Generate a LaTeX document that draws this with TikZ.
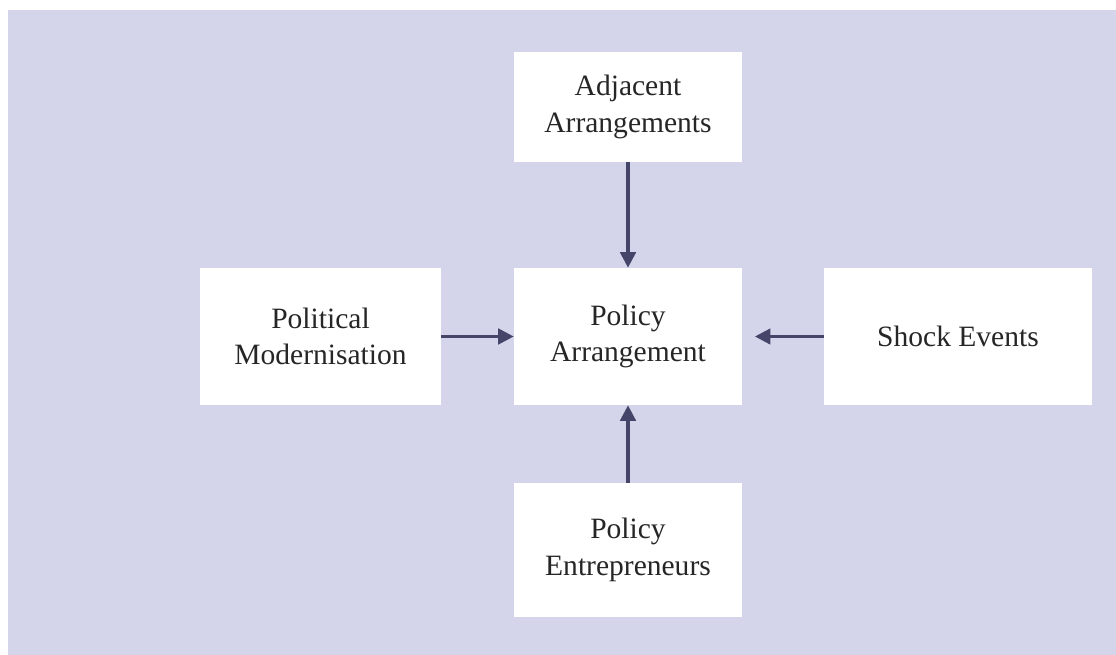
\documentclass[tikz,border=0pt]{standalone}
\usepackage{fontspec}
\setmainfont{Liberation Serif}
\usetikzlibrary{arrows.meta,positioning}
\definecolor{panelbg}{HTML}{D4D4EA}
\definecolor{linkcol}{HTML}{45456A}
\tikzset{
	box/.style={fill=white, align=center, inner sep=0pt, text=black!85,
		font=\fontsize{21}{26}\selectfont},
	link/.style={-{Triangle[length=11pt,width=11pt]}, linkcol, line width=2.2pt}
}

\begin{document}
\begin{tikzpicture}[x=0.025cm, y=-0.025cm]
		\useasboundingbox (0,0) rectangle (1116,655);
		\fill[panelbg] (8,10) rectangle (1116,655);
		
		% Nodes
		\node[box, minimum width=5.7cm, minimum height=3.425cm] (PA) at (628,336.5) {Policy\\Arrangement};
		\node[box, minimum width=5.7cm, minimum height=2.75cm] (AA) at (628,107) {Adjacent\\Arrangements};
		\node[box, minimum width=6.025cm, minimum height=3.4cm] (PM) at (320.5,336.5) {Political\\Modernisation};
		\node[box, minimum width=6.7cm, minimum height=3.4cm] (SE) at (958,336.5) {Shock Events};
		\node[box, minimum width=5.7cm, minimum height=3.35cm] (PE) at (628,550) {Policy\\Entrepreneurs};
		
		% Arrows
		\draw[link] (AA) -- (PA);
		\draw[link] (PM) -- (PA);
		\draw[link, shorten >=9pt] (SE) -- (PA);
		\draw[link] (PE) -- (PA);
	\end{tikzpicture}
\end{document}
